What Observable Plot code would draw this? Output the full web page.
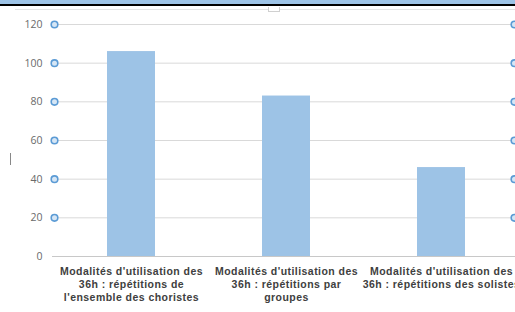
<!DOCTYPE html>
<html>
<head>
<meta charset="utf-8">
<script src="https://cdn.jsdelivr.net/npm/d3@7"></script>
<script src="https://cdn.jsdelivr.net/npm/@observablehq/plot@0.6"></script>
<style>
  html, body { margin: 0; padding: 0; background: #fff; }
  #wrap { position: relative; width: 515px; height: 312px; overflow: hidden; }
  #band { position: absolute; left: 0; top: 0; width: 515px; height: 4px; background: #9dc3e6; border-bottom: 2px solid #000; z-index: 2; }
  #frame { position: absolute; left: 15px; top: 9px; width: 500px; height: 0; border-top: 1px solid #e4e4e4; z-index: 2; }
  #handle { position: absolute; left: 268px; top: 7px; width: 10px; height: 4px; background: #fff; border: 1px solid #d0d0d0; border-top: none; z-index: 3; }
  #caret { position: absolute; left: 10px; top: 153px; width: 1px; height: 12px; background: #888; z-index: 3; }
  svg { position: absolute; left: 0; top: 0; }
  .xlab { letter-spacing: 0.45px; }
</style>
</head>
<body>
<div id="wrap">
  <div id="band"></div>
  <div id="frame"></div>
  <div id="handle"></div>
  <div id="caret"></div>
</div>
<script>
const categories = [
  "Modalités d'utilisation des\n36h : répétitions de\nl'ensemble des choristes",
  "Modalités d'utilisation des\n36h : répétitions par\ngroupes",
  "Modalités d'utilisation des\n36h : répétitions des solistes"
];
const values = [106, 83, 46];
const yTicks = [0, 20, 40, 60, 80, 100, 120];

const data = categories.map((c, i) => ({cat: c, value: values[i]}));
const gridTicks = yTicks.filter(t => t !== 0);

const chart = Plot.plot({
  width: 515,
  height: 312,
  marginTop: 0, marginRight: 0, marginBottom: 0, marginLeft: 0,
  style: {background: "transparent", fontFamily: "'Open Sans', sans-serif"},
  x: {type: "band", domain: categories, range: [53.5, 518.5], paddingInner: 0.69, paddingOuter: 0.345, axis: null},
  y: {domain: [0, 120], range: [256, 24], axis: null},
  marks: [
    Plot.ruleY(gridTicks, {y: d => d, stroke: "#d9d9d9", strokeWidth: 1, insetLeft: 58, insetRight: 2}),
    Plot.barY(data, {x: "cat", y: "value", fill: "#9dc3e6"}),
    Plot.ruleY([0], {stroke: "#c8c8c8", strokeWidth: 1, insetLeft: 52}),
    Plot.text(yTicks, {y: d => d, text: d => String(d), frameAnchor: "left", dx: 42, textAnchor: "end", fill: "#6a6a6a", fontSize: 10.5}),
    Plot.dot(gridTicks, {y: d => d, frameAnchor: "left", dx: 54, r: 3.3, stroke: "#5b9bd5", strokeWidth: 1.6, fill: "#d6e6f5"}),
    Plot.dot(gridTicks, {y: d => d, frameAnchor: "right", dx: -1, r: 3.3, stroke: "#5b9bd5", strokeWidth: 1.6, fill: "#d6e6f5"}),
    Plot.text(data, {x: "cat", text: "cat", frameAnchor: "bottom", dy: -46, lineAnchor: "top", lineHeight: 1.2, fill: "#404040", fontSize: 10.5, fontWeight: "bold", fontFamily: "'Liberation Sans', Arial, sans-serif", className: "xlab"})
  ]
});
document.getElementById("wrap").appendChild(chart);
</script>
</body>
</html>
